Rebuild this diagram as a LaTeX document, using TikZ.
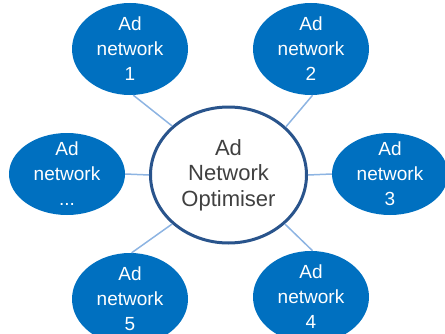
\documentclass[tikz,border=0pt]{standalone}
\usepackage{fontspec}
\setmainfont{Liberation Sans}
\usetikzlibrary{shapes.geometric}

\definecolor{netblue}{RGB}{0,112,192}
\definecolor{optblue}{RGB}{41,84,140}
\definecolor{linkblue}{RGB}{141,180,226}
\definecolor{opttext}{RGB}{64,64,64}

\begin{document}
\begin{tikzpicture}[x=1pt,y=1pt,
	netnode/.style={ellipse,fill=netblue,text=white,inner sep=-6pt,minimum width=116pt,minimum height=92pt,align=center,font=\fontsize{19}{25}\selectfont},
	optnode/.style={ellipse,draw=optblue,line width=3pt,fill=white,text=opttext,inner sep=-6pt,minimum width=156pt,minimum height=136pt,align=center,font=\fontsize{22}{25.5}\selectfont},
	link/.style={draw=linkblue,line width=1.5pt}]
		\useasboundingbox (0,0) rectangle (445,333);

		\node[optnode]								(opt)		at (228.5,158)	{Ad\\Network\\Optimiser};
		\node[netnode]								(net1)		at (130,284)	{Ad\\network\\1};
		\node[netnode]								(net2)		at (311,284)	{Ad\\network\\2};
		\node[netnode,minimum height=82pt]			(netdots)	at (67,159)		{Ad\\network\\...};
		\node[netnode,minimum height=82pt]			(net3)		at (390,159)	{Ad\\network\\3};
		\node[netnode]								(net5)		at (130,34)		{Ad\\network\\5};
		\node[netnode]								(net4)		at (311,36)		{Ad\\network\\4};

		\draw[link] (opt.139.5) -- (net1.-86);
		\draw[link] (opt.40.5) -- (net2.-88);
		\draw[link] (opt.180) -- (netdots.0);
		\draw[link] (opt.0) -- (net3.180);
		\draw[link] (opt.221.5) -- (net5.88);
		\draw[link] (opt.319.5) -- (net4.88);
	\end{tikzpicture}
\end{document}
